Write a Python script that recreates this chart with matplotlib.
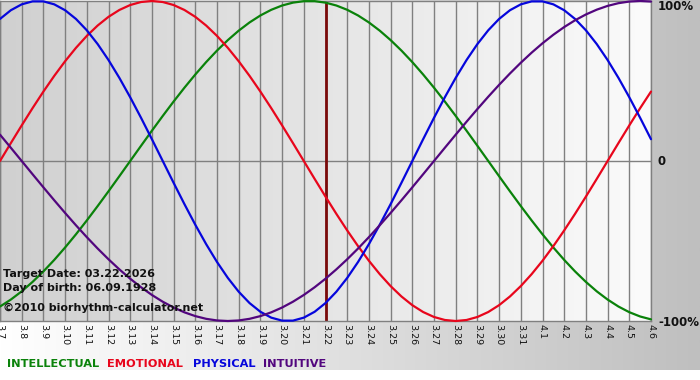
import matplotlib
matplotlib.use("Agg")
import matplotlib.pyplot as plt
import matplotlib.transforms as mtransforms
import numpy as np
from matplotlib.colors import LinearSegmentedColormap

dates = ["3.7", "3.8", "3.9", "3.10", "3.11", "3.12", "3.13", "3.14", "3.15", "3.16",
         "3.17", "3.18", "3.19", "3.20", "3.21", "3.22", "3.23", "3.24", "3.25", "3.26",
         "3.27", "3.28", "3.29", "3.30", "3.31", "4.1", "4.2", "4.3", "4.4", "4.5", "4.6"]
samples_per_day = 2

intellectual = [-90.96, -86.60, -81.46, -75.57, -69.01, -61.82, -54.06, -45.82, -37.17, -28.17,
                -18.93, -9.51, 0.0, 9.51, 18.93, 28.17, 37.17, 45.82, 54.06, 61.82,
                69.01, 75.57, 81.46, 86.60, 90.96, 94.50, 97.18, 98.98, 99.89, 99.89,
                98.98, 97.18, 94.50, 90.96, 86.60, 81.46, 75.57, 69.01, 61.82, 54.06,
                45.82, 37.17, 28.17, 18.93, 9.51, 0.0, -9.51, -18.93, -28.17, -37.17,
                -45.82, -54.06, -61.82, -69.01, -75.57, -81.46, -86.60, -90.96, -94.50, -97.18,
                -98.98]
emotional = [0.0, 11.20, 22.25, 33.03, 43.39, 53.20, 62.35, 70.71, 78.18, 84.67,
             90.10, 94.39, 97.49, 99.37, 100.0, 99.37, 97.49, 94.39, 90.10, 84.67,
             78.18, 70.71, 62.35, 53.20, 43.39, 33.03, 22.25, 11.20, 0.0, -11.20,
             -22.25, -33.03, -43.39, -53.20, -62.35, -70.71, -78.18, -84.67, -90.10, -94.39,
             -97.49, -99.37, -100.0, -99.37, -97.49, -94.39, -90.10, -84.67, -78.18, -70.71,
             -62.35, -53.20, -43.39, -33.03, -22.25, -11.20, 0.0, 11.20, 22.25, 33.03,
             43.39]
physical = [88.79, 94.23, 97.91, 99.77, 99.77, 97.91, 94.23, 88.79, 81.70, 73.08,
            63.11, 51.96, 39.84, 26.98, 13.62, 0.0, -13.62, -26.98, -39.84, -51.96,
            -63.11, -73.08, -81.70, -88.79, -94.23, -97.91, -99.77, -99.77, -97.91, -94.23,
            -88.79, -81.70, -73.08, -63.11, -51.96, -39.84, -26.98, -13.62, 0.0, 13.62,
            26.98, 39.84, 51.96, 63.11, 73.08, 81.70, 88.79, 94.23, 97.91, 99.77,
            99.77, 97.91, 94.23, 88.79, 81.70, 73.08, 63.11, 51.96, 39.84, 26.98,
            13.62]
intuitive = [16.46, 8.26, 0.0, -8.26, -16.46, -24.55, -32.47, -40.17, -47.59, -54.70,
             -61.42, -67.73, -73.57, -78.91, -83.72, -87.95, -91.58, -94.58, -96.94, -98.64,
             -99.66, -100.0, -99.66, -98.64, -96.94, -94.58, -91.58, -87.95, -83.72, -78.91,
             -73.57, -67.73, -61.42, -54.70, -47.59, -40.17, -32.47, -24.55, -16.46, -8.26,
             0.0, 8.26, 16.46, 24.55, 32.47, 40.17, 47.59, 54.70, 61.42, 67.73,
             73.57, 78.91, 83.72, 87.95, 91.58, 94.58, 96.94, 98.64, 99.66, 100.0,
             99.66]

series_names = ["INTELLECTUAL", "EMOTIONAL", "PHYSICAL", "INTUITIVE"]
series_colors = ["#0a820a", "#e8061c", "#0606dc", "#52067e"]
target_label = "3.22"
target_text = "Target Date: 03.22.2026"
birth_text = "Day of birth: 06.09.1928"
copyright_text = "\u00a92010 biorhythm-calculator.net"
y_labels = [(100, "100%"), (0, "0"), (-100, "-100%")]

W, H = 700, 380
fig = plt.figure(figsize=(W / 100, H / 100), dpi=100)
fig.patch.set_facecolor("white")

# outer background gradient (white -> gray, left to right)
bg = fig.add_axes([0, 0, 1, 1], zorder=-10)
bg.set_axis_off()
outer_cmap = LinearSegmentedColormap.from_list("outer", ["#ffffff", "#bfbfbf"])
grad = np.linspace(0, 1, 256).reshape(1, -1)
bg.imshow(grad, extent=[0, 1, 10 / H, 1], aspect="auto", cmap=outer_cmap)
bg.set_xlim(0, 1)
bg.set_ylim(0, 1)

# plot area
ax = fig.add_axes([0, 59 / H, 651 / W, 320 / H])
n = len(dates)
day_idx = np.arange(n)
inner_cmap = LinearSegmentedColormap.from_list("inner", ["#d0d0d0", "#fbfbfb"])
ax.imshow(grad, extent=[0, n - 1, -100, 100], aspect="auto", cmap=inner_cmap, zorder=0)

for xi in day_idx:
    ax.axvline(xi, color="#808080", lw=1.0, zorder=1)
ax.axhline(0, color="#808080", lw=1.0, zorder=1)

ti = dates.index(target_label)
ax.axvline(ti, color="#7a0a0a", lw=2.0, zorder=2)

for vals, col in zip([intellectual, emotional, physical, intuitive], series_colors):
    xs = np.arange(len(vals)) / samples_per_day
    ax.plot(xs, vals, color=col, lw=1.6, zorder=3, clip_on=False,
            solid_capstyle="round", solid_joinstyle="round")

ax.set_xlim(0, n - 1)
ax.set_ylim(-100, 100)
ax.set_xticks(day_idx)
ax.set_xticklabels(dates, rotation=270, fontsize=6.8, color="#111111")
ax.tick_params(axis="x", length=0, pad=2.5)
ax.set_yticks([])
for s in ax.spines.values():
    s.set_color("#808080")
    s.set_linewidth(1.0)

trans = mtransforms.blended_transform_factory(ax.transAxes, ax.transData)
offsets = {100: -3.5, 0: -0.5, -100: -0.8}
for yv, lab in y_labels:
    ax.text(658 / 651, yv + offsets[yv], lab, transform=trans, ha="left", va="center",
            fontsize=8.5, fontweight="bold", color="#111111")


def px(xp, yp):
    return xp / W, 1 - yp / H


# info texts
fig.text(*px(3, 277), target_text, fontsize=8.0, fontweight="bold", va="baseline", color="#111111")
fig.text(*px(3, 291), birth_text, fontsize=8.0, fontweight="bold", va="baseline", color="#111111")
fig.text(*px(3, 311), copyright_text, fontsize=8.0, fontweight="bold", va="baseline", color="#111111")

# legend words
legend_x = [7, 107, 193, 263]
for name, col, lx in zip(series_names, series_colors, legend_x):
    fig.text(*px(lx, 367), name, fontsize=8.2, fontweight="bold", va="baseline", color=col)

fig.savefig("out.png", dpi=100)
